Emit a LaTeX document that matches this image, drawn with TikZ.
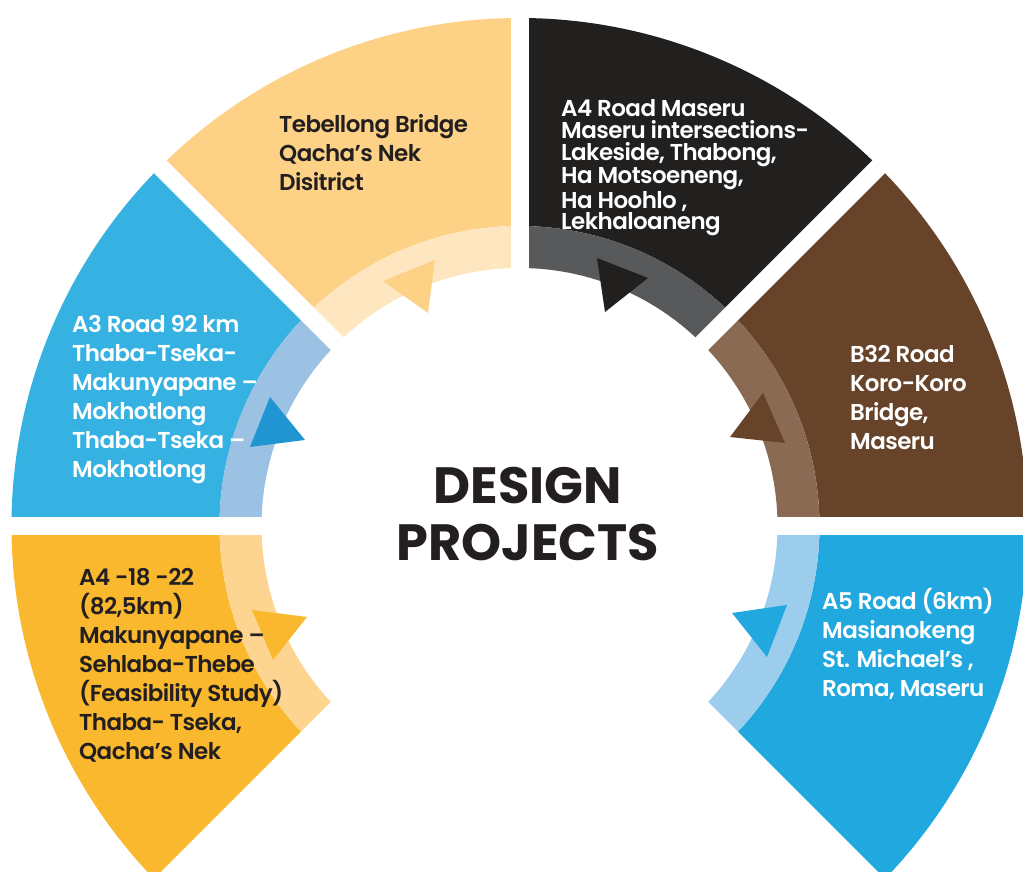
\documentclass[tikz,border=0pt]{standalone}
\usepackage{fontspec}
\setmainfont{Poppins}[UprightFont=* SemiBold, BoldFont=* Bold]
\newfontfamily\bodyfont{Poppins}[UprightFont=* SemiBold, LetterSpace=-2.5]
\definecolor{orMain}{HTML}{FDD287}
\definecolor{orBand}{HTML}{FEE7C0}
\definecolor{bkMain}{HTML}{221F1F}
\definecolor{bkBand}{HTML}{58595B}
\definecolor{brMain}{HTML}{664329}
\definecolor{brBand}{HTML}{8A6A53}
\definecolor{bluMain}{HTML}{21A8DF}
\definecolor{bluBand}{HTML}{9CCDEC}
\definecolor{yeMain}{HTML}{F9B82D}
\definecolor{yeBand}{HTML}{FDD590}
\definecolor{abMain}{HTML}{35B2E2}
\definecolor{abBand}{HTML}{9BC1E3}
\definecolor{abArrow}{HTML}{1F96D2}
\definecolor{txtDark}{HTML}{231F20}
\newcommand\mysector[4]{%
  \fill[#3] (#1:300) arc[start angle=#1,end angle=#2,radius=300] -- (#2:508) arc[start angle=#2,end angle=#1,radius=508] -- cycle;
  \fill[#4] (#1:258) arc[start angle=#1,end angle=#2,radius=258] -- (#2:300) arc[start angle=#2,end angle=#1,radius=300] -- cycle;}
\tikzset{
  lbl/.style={anchor=base west, inner sep=0pt, align=left, font=\bodyfont\fontsize{23}{29}\selectfont},
  lblsmall/.style={lbl, font=\bodyfont\fontsize{23}{21.8}\selectfont},
  gapline/.style={white, line width=18pt},
}
\begin{document}
\begin{tikzpicture}[x=1pt,y=1pt]
\useasboundingbox (0,0) rectangle (1023,872);
\clip (0,0) rectangle (1023,872);
\begin{scope}[shift={(519.5,346)}]
  \mysector{90}{135}{orMain}{orBand}
  \mysector{45}{90}{bkMain}{bkBand}
  \mysector{0}{45}{brMain}{brBand}
  \mysector{-45}{0}{bluMain}{bluBand}
  \mysector{180}{225}{yeMain}{yeBand}
  \mysector{135}{180}{abMain}{abBand}
  \foreach \a in {0,45,90,135,180,225,315}
    \draw[gapline] (\a:240) -- (\a:530);
\end{scope}
% arrow triangles
\fill[orMain] (383,591) -- (435,612) -- (428,559) -- cycle;
\fill[bkMain] (597,614) -- (648,594) -- (605,560) -- cycle;
\fill[brMain] (763,479) -- (785,429) -- (730,435) -- cycle;
\fill[bluMain] (732,259) -- (787,267) -- (767,215) -- cycle;
\fill[yeMain] (252,262) -- (307,255) -- (273,212) -- cycle;
\fill[abArrow] (270,475) -- (305,432) -- (250,425) -- cycle;
% labels (anchor = baseline of the last line)
\node[lbl, text=txtDark] (teb) at (279,681) {Tebellong Bridge\\Qacha’s Nek\\Disitrict};
\node[lblsmall, text=white] (a4m) at (561,642) {A4 Road Maseru\\Maseru intersections-\\Lakeside, Thabong,\\Ha Motsoeneng,\\Ha Hoohlo ,\\Lekhaloaneng};
\node[lbl, text=white] (b32) at (850,422) {B32 Road\\Koro-Koro\\Bridge,\\Maseru};
\node[lbl, text=white] (a5) at (822,175) {A5 Road (6km)\\Masianokeng\\St. Michael’s ,\\Roma, Maseru};
\node[lbl, text=txtDark] (a418) at (79,112) {A4 -18 -22\\(82,5km)\\Makunyapane –\\Sehlaba-Thebe\\(Feasibility Study)\\Thaba- Tseka,\\Qacha’s Nek};
\node[lbl, text=white] (a3) at (72,394) {A3 Road 92 km\\Thaba-Tseka-\\Makunyapane –\\Mokhotlong\\Thaba-Tseka –\\Mokhotlong};
\node[font=\bfseries\fontsize{51}{57}\selectfont, text=txtDark, align=center, inner sep=0pt] (title) at (528,358) {DESIGN\\PROJECTS};
\end{tikzpicture}
\end{document}
